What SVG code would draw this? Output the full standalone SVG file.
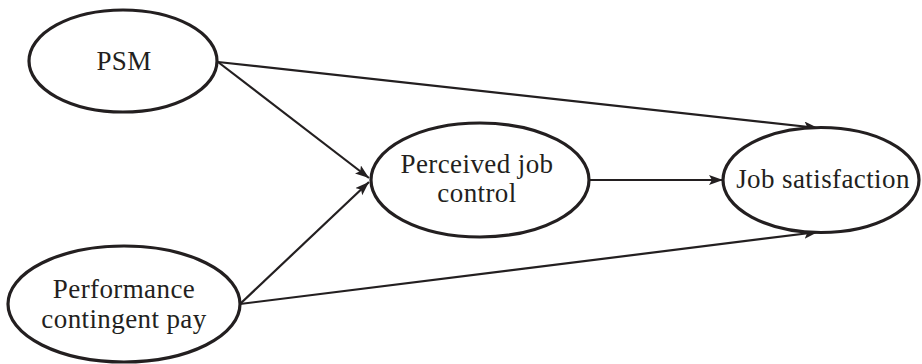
<svg xmlns="http://www.w3.org/2000/svg" width="922" height="364" viewBox="0 0 922 364">
<style>
.node ellipse{fill:#fff;stroke:#231f20;stroke-width:3.2}
.node text{font-family:"Liberation Serif","Times New Roman",serif;font-size:27px;letter-spacing:0.4px;fill:#231f20;text-anchor:middle}
.edge{stroke:#231f20;stroke-width:2.2;fill:none;marker-end:url(#ah)}
</style>
<defs>
<marker id="ah" markerUnits="userSpaceOnUse" markerWidth="15" markerHeight="11" refX="14" refY="5" orient="auto">
<path d="M0,0 L14,5 L0,10 L3,5 z" fill="#231f20"/>
</marker>
</defs>
<rect width="922" height="364" fill="#fff"/>
<g id="connectors">
<line class="edge" x1="218" y1="62" x2="818" y2="128"/>
<line class="edge" x1="218" y1="62" x2="369" y2="178"/>
<line class="edge" x1="240" y1="304" x2="369" y2="182"/>
<line class="edge" x1="240" y1="304" x2="818" y2="232"/>
<line class="edge" x1="588" y1="180" x2="723" y2="180"/>
</g>
<g id="psm" class="node">
<ellipse cx="123" cy="61" rx="94" ry="51"/>
<text x="124" y="70">PSM</text>
</g>
<g id="pcp" class="node">
<ellipse cx="124" cy="304" rx="116" ry="58"/>
<text x="124" y="298">Performance</text>
<text x="124" y="328">contingent pay</text>
</g>
<g id="pjc" class="node">
<ellipse cx="480" cy="180" rx="109" ry="57"/>
<text x="477" y="173">Perceived job</text>
<text x="477" y="202">control</text>
</g>
<g id="js" class="node">
<ellipse cx="821" cy="180" rx="98" ry="52.5"/>
<text x="823" y="188">Job satisfaction</text>
</g>
</svg>
